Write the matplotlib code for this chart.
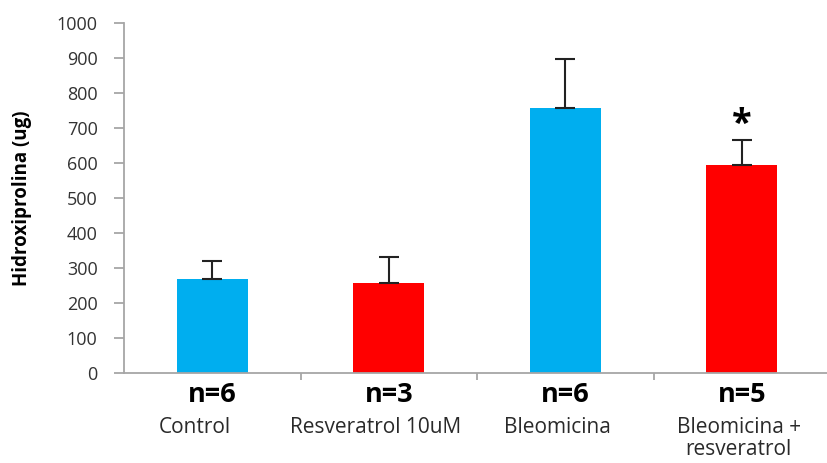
import matplotlib
matplotlib.use("Agg")
import matplotlib.pyplot as plt
import matplotlib.transforms as mtransforms
import numpy as np

categories = ["Control", "Resveratrol 10uM", "Bleomicina", "Bleomicina +\nresveratrol"]
values = [268, 258, 758, 594]
errors = [52, 74, 138, 72]
n_labels = ["n=6", "n=3", "n=6", "n=5"]
colors = ["#00AEEF", "#FF0000", "#00AEEF", "#FF0000"]
yticks = [0, 100, 200, 300, 400, 500, 600, 700, 800, 900, 1000]

plt.rcParams['font.family'] = ['Open Sans', 'DejaVu Sans']

fig = plt.figure(figsize=(8.27, 4.63), dpi=100)
ax = fig.add_axes([124/827, 90/463, 706/827, 350/463])

x = np.arange(len(categories))
ax.bar(x, values, width=0.4, color=colors, zorder=2)
ax.errorbar(x, values, yerr=[np.zeros(len(values)), errors], fmt='none',
            ecolor='#222222', elinewidth=1.5, capsize=7, capthick=1.5, zorder=3)

ax.set_xlim(-0.5, len(categories) - 0.5)
ax.set_ylim(0, 1000)
ax.set_yticks(yticks)
ax.set_yticklabels([str(v) for v in yticks], fontsize=13, color='#333333')

for s in ['top', 'right']:
    ax.spines[s].set_visible(False)
for s in ['left', 'bottom']:
    ax.spines[s].set_color('#A6A6A6')
    ax.spines[s].set_linewidth(1.3)

ax.tick_params(axis='y', length=7, width=1.3, color='#A6A6A6', pad=12)
ax.set_xticks(np.arange(0.5, len(categories) - 0.5, 1.0))
ax.set_xticklabels([])
ax.tick_params(axis='x', length=5, width=1.3, color='#A6A6A6', direction='out')

label_shift_px = [-17, -13, -8, -3]
for i, (lab, nl) in enumerate(zip(categories, n_labels)):
    ax.text(i, -62, nl, ha='center', va='center', fontsize=19.5, fontweight='bold',
            color='black', clip_on=False)
    tr = ax.transData + mtransforms.ScaledTranslation(label_shift_px[i] / 100, 0, fig.dpi_scale_trans)
    for j, line in enumerate(lab.split("\n")):
        ax.text(i, -157 - 62 * j, line, ha='center', va='center', fontsize=15,
                color='#2a2a2a', clip_on=False, transform=tr)

ax.text(3, 708, "*", ha='center', va='center', fontsize=26, fontweight='bold', color='black')

fig.text(22/827, 1 - 198/463, "Hidroxiprolina (ug)", rotation=90, ha='center', va='center',
         fontsize=13.5, fontweight='bold', color='black')

fig.savefig("out.png", dpi=100)
